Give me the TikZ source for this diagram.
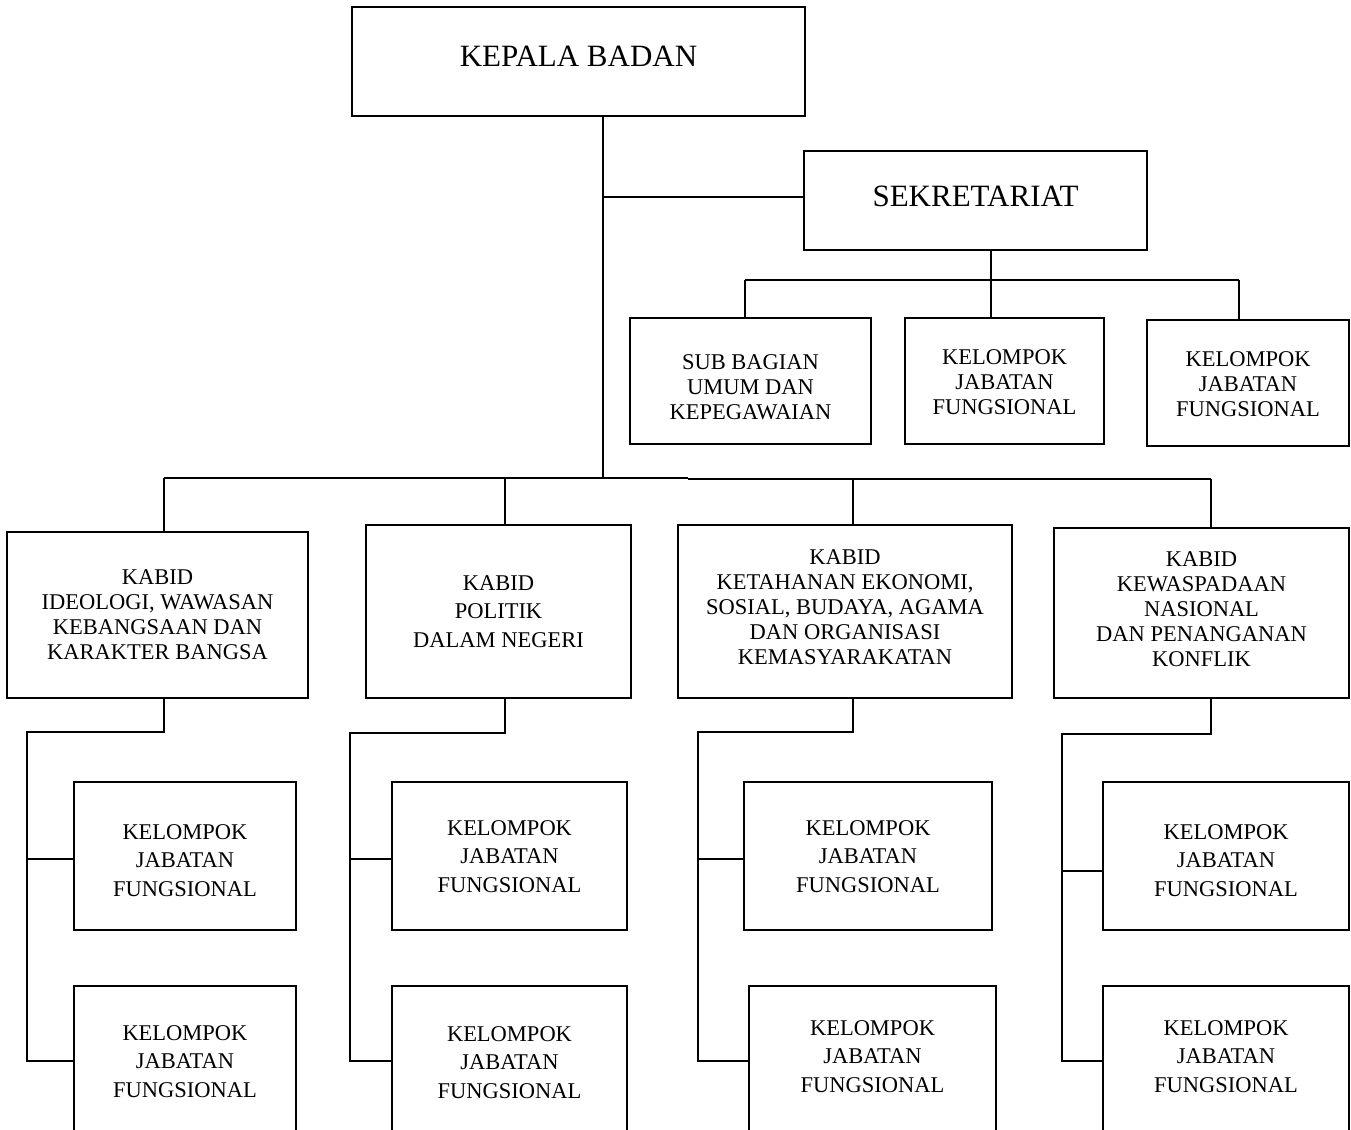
\documentclass[tikz,border=0pt]{standalone}
\usepackage{fontspec}
\setmainfont{Liberation Serif}
\newcommand{\mvtext}[2]{\raisebox{#1}[\height][\depth]{\begin{tabular}{@{}c@{}}#2\end{tabular}}}
\begin{document}
\begin{tikzpicture}[x=1pt,y=-1pt,
  box/.style={draw,line width=2.6pt,rectangle,inner sep=0pt,outer sep=0pt,align=center,
    font=\fontsize{22.5}{25}\selectfont},
  wide/.style={font=\fontsize{22.5}{28.5}\selectfont},
  big/.style={font=\fontsize{31}{37}\selectfont},
  conn/.style={line width=2.2pt}]
\useasboundingbox (0,0) rectangle (1351,1129);
% top
\node[box,big,minimum width=453,minimum height=109] (kb) at (578.5,61.5) {\mvtext{2pt}{KEPALA BADAN}};
\node[box,big,minimum width=343,minimum height=99] (sek) at (975.5,200.5) {\mvtext{1pt}{SEKRETARIAT}};
\node[box,minimum width=241,minimum height=126] (sub) at (750.5,381) {\mvtext{-8pt}{SUB BAGIAN\\UMUM DAN\\KEPEGAWAIAN}};
\node[box,minimum width=199,minimum height=126] (sj2) at (1004.5,381) {\mvtext{-3pt}{KELOMPOK\\JABATAN\\FUNGSIONAL}};
\node[box,minimum width=202,minimum height=126] (sj3) at (1248,383) {\mvtext{-3pt}{KELOMPOK\\JABATAN\\FUNGSIONAL}};
% kabid
\node[box,minimum width=301,minimum height=166] (k1) at (157.5,615) {KABID\\IDEOLOGI, WAWASAN\\KEBANGSAAN DAN\\KARAKTER BANGSA};
\node[box,wide,minimum width=265,minimum height=173] (k2) at (498.5,611.5) {KABID\\POLITIK\\DALAM NEGERI};
\node[box,minimum width=334,minimum height=173] (k3) at (845,611.5) {\mvtext{2.5pt}{KABID\\KETAHANAN EKONOMI,\\SOSIAL, BUDAYA, AGAMA\\DAN ORGANISASI\\KEMASYARAKATAN}};
\node[box,minimum width=295,minimum height=170] (k4) at (1201.5,613) {\mvtext{2pt}{KABID\\KEWASPADAAN\\NASIONAL\\DAN PENANGANAN\\KONFLIK}};
% kelompok
\node[box,wide,minimum width=222,minimum height=148] (k1a) at (185,856) {\mvtext{-6pt}{KELOMPOK\\JABATAN\\FUNGSIONAL}};
\node[box,wide,minimum width=222,minimum height=148] (k1b) at (185,1060) {\mvtext{-3pt}{KELOMPOK\\JABATAN\\FUNGSIONAL}};
\node[box,wide,minimum width=235,minimum height=148] (k2a) at (509.5,856) {\mvtext{-2pt}{KELOMPOK\\JABATAN\\FUNGSIONAL}};
\node[box,wide,minimum width=235,minimum height=148] (k2b) at (509.5,1060) {\mvtext{-4pt}{KELOMPOK\\JABATAN\\FUNGSIONAL}};
\node[box,wide,minimum width=248,minimum height=148] (k3a) at (868,856) {\mvtext{-2pt}{KELOMPOK\\JABATAN\\FUNGSIONAL}};
\node[box,wide,minimum width=247,minimum height=148] (k3b) at (872.5,1060) {\mvtext{2pt}{KELOMPOK\\JABATAN\\FUNGSIONAL}};
\node[box,wide,minimum width=246,minimum height=148] (k4a) at (1226,856) {\mvtext{-6pt}{KELOMPOK\\JABATAN\\FUNGSIONAL}};
\node[box,wide,minimum width=246,minimum height=148] (k4b) at (1226,1060) {\mvtext{2pt}{KELOMPOK\\JABATAN\\FUNGSIONAL}};
% coordinates
\coordinate (spine) at (603,478);
\coordinate (sekin) at (603,197);
\coordinate (sbus) at (991,280);
\coordinate (sd1) at (745,280);
\coordinate (sd3) at (1239,280);
\coordinate (busL) at (164,478);
\coordinate (busM) at (688,478);
\coordinate (busR) at (1211,479);
\coordinate (d2) at (505,478);
\coordinate (d3) at (853,479);
\coordinate (c1) at (164,732); \coordinate (v1) at (27,732); \coordinate (v1a) at (27,859); \coordinate (v1b) at (27,1061);
\coordinate (c2) at (505,733); \coordinate (v2) at (350,733); \coordinate (v2a) at (350,859); \coordinate (v2b) at (350,1061);
\coordinate (c3) at (853,732); \coordinate (v3) at (698,732); \coordinate (v3a) at (698,859); \coordinate (v3b) at (698,1061);
\coordinate (c4) at (1211,734); \coordinate (v4) at (1062,734); \coordinate (v4a) at (1062,871); \coordinate (v4b) at (1062,1061);
% connectors
\draw[conn] (kb.south -| spine) -- (spine);
\draw[conn] (sekin) -- (sek.west |- sekin);
\draw[conn] (sek.south -| sbus) -- (sbus);
\draw[conn] (sd1) -- (sd3);
\draw[conn] (sd1) -- (sub.north -| sd1);
\draw[conn] (sbus) -- (sj2.north -| sbus);
\draw[conn] (sd3) -- (sj3.north -| sd3);
\draw[conn] (busL) -- (busM);
\draw[conn] (busM |- busR) -- (busR);
\draw[conn] (busL) -- (k1.north -| busL);
\draw[conn] (d2) -- (k2.north -| d2);
\draw[conn] (d3) -- (k3.north -| d3);
\draw[conn] (busR) -- (k4.north -| busR);
\draw[conn] (k1.south -| c1) -- (c1) -- (v1) -- (v1b) -- (k1b.west |- v1b);
\draw[conn] (v1a) -- (k1a.west |- v1a);
\draw[conn] (k2.south -| c2) -- (c2) -- (v2) -- (v2b) -- (k2b.west |- v2b);
\draw[conn] (v2a) -- (k2a.west |- v2a);
\draw[conn] (k3.south -| c3) -- (c3) -- (v3) -- (v3b) -- (k3b.west |- v3b);
\draw[conn] (v3a) -- (k3a.west |- v3a);
\draw[conn] (k4.south -| c4) -- (c4) -- (v4) -- (v4b) -- (k4b.west |- v4b);
\draw[conn] (v4a) -- (k4a.west |- v4a);
\end{tikzpicture}
\end{document}
